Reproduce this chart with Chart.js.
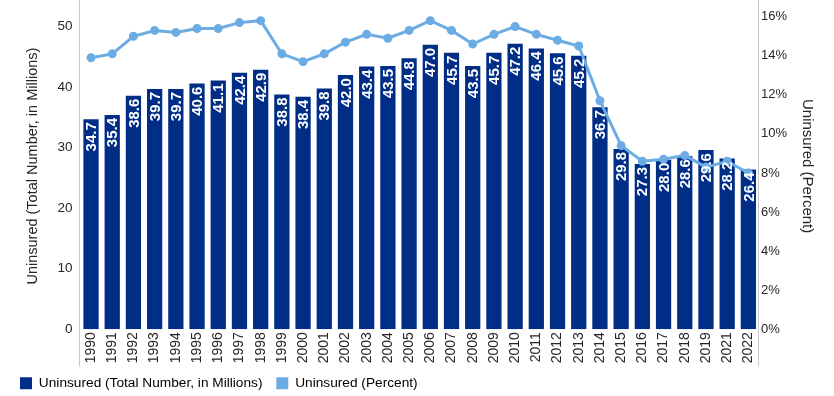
<!DOCTYPE html>
<html>
<head>
<meta charset="utf-8">
<script src="https://cdn.jsdelivr.net/npm/chart.js@4"></script>
<style>
  html, body { margin: 0; padding: 0; background: #fff; overflow: hidden; }
  #frame { width: 834px; height: 396px; position: relative; overflow: hidden; }
  #wrap { width: 834px; height: 415px; position: absolute; left: 0; top: -13px; }
</style>
</head>
<body>
<div id="frame"><div id="wrap"><canvas id="myChart"></canvas></div></div>
<script>
const years = ['1990','1991','1992','1993','1994','1995','1996','1997','1998','1999','2000',
  '2001','2002','2003','2004','2005','2006','2007','2008','2009','2010','2011','2012','2013',
  '2014','2015','2016','2017','2018','2019','2021','2022'];

const uninsuredMillions = [34.7, 35.4, 38.6, 39.7, 39.7, 40.6, 41.1, 42.4, 42.9, 38.8, 38.4,
  39.8, 42.0, 43.4, 43.5, 44.8, 47.0, 45.7, 43.5, 45.7, 47.2, 46.4, 45.6, 45.2,
  36.7, 29.8, 27.3, 28.0, 28.6, 29.6, 28.2, 26.4];

const uninsuredPercent = [13.9, 14.1, 15.0, 15.3, 15.2, 15.4, 15.4, 15.7, 15.8, 14.1, 13.7,
  14.1, 14.7, 15.1, 14.9, 15.3, 15.8, 15.3, 14.6, 15.1, 15.5, 15.1, 14.8, 14.5,
  11.7, 9.4, 8.6, 8.7, 8.9, 8.3, 8.6, 8.0];

const leftTicks = [0, 10, 20, 30, 40, 50];
const rightTicks = [0, 2, 4, 6, 8, 10, 12, 14, 16];

const navy = 'rgb(0, 46, 135)';
const lightBlue = 'rgb(108, 172, 228)';
const font = "Arial, 'Liberation Sans', sans-serif";
const textColor = '#262626';

// white values written up the inside of each bar
const barLabels = {
  id: 'barLabels',
  afterDatasetsDraw(chart) {
    const c = chart.ctx;
    const meta = chart.getDatasetMeta(1);
    c.save();
    c.fillStyle = '#fff';
    c.font = 'bold 15px ' + font;
    c.textAlign = 'right';
    c.textBaseline = 'middle';
    meta.data.forEach((bar, i) => {
      c.save();
      c.translate(bar.x, bar.y + 3);
      c.rotate(-Math.PI / 2);
      c.fillText(uninsuredMillions[i].toFixed(1), 0, 1);
      c.restore();
    });
    c.restore();
  }
};

// grey vertical axis lines running down through the year labels
const sideLines = {
  id: 'sideLines',
  afterDraw(chart) {
    const c = chart.ctx, a = chart.chartArea;
    const bottom = chart.scales.x.bottom;
    c.save();
    c.strokeStyle = '#c8c8c8';
    c.lineWidth = 1;
    [a.left, a.right].forEach(x => {
      c.beginPath();
      c.moveTo(Math.round(x) - 0.5, 13);
      c.lineTo(Math.round(x) - 0.5, bottom);
      c.stroke();
    });
    c.restore();
  }
};

new Chart(document.getElementById('myChart'), {
  data: {
    labels: years,
    datasets: [{
      type: 'line',
      label: 'Uninsured (Percent)',
      data: uninsuredPercent,
      yAxisID: 'y2',
      borderColor: lightBlue,
      backgroundColor: lightBlue,
      borderWidth: 3,
      pointRadius: 3,
      pointHoverRadius: 3,
      tension: 0,
      order: 0
    }, {
      type: 'bar',
      label: 'Uninsured (Total Number, in Millions)',
      data: uninsuredMillions,
      yAxisID: 'y',
      backgroundColor: navy,
      categoryPercentage: 1,
      barPercentage: 0.72,
      order: 1
    }]
  },
  options: {
    responsive: true,
    maintainAspectRatio: false,
    animation: false,
    layout: { padding: { top: 0, left: 10, right: 10, bottom: 2 } },
    plugins: {
      legend: {
        position: 'bottom',
        align: 'start',
        reverse: true,
        labels: {
          color: textColor,
          font: { family: font, size: 13.7 },
          boxWidth: 12,
          boxHeight: 12,
          padding: 10,
          generateLabels(chart) {
            return chart.data.datasets.map((d, i) => ({
              text: i === 1 ? d.label + ' ' : d.label,
              fillStyle: i === 0 ? lightBlue : navy,
              strokeStyle: i === 0 ? lightBlue : navy,
              lineWidth: 0,
              datasetIndex: i
            }));
          }
        }
      },
      tooltip: { enabled: false }
    },
    scales: {
      x: {
        grid: { display: false, drawTicks: false },
        border: { display: false },
        ticks: {
          color: textColor,
          font: { family: font, size: 14 },
          maxRotation: 90,
          minRotation: 90,
          autoSkip: false,
          padding: 3
        }
      },
      y: {
        position: 'left',
        min: 0,
        max: 53.9,
        grid: { display: false, drawTicks: false },
        border: { display: false },
        afterBuildTicks: s => { s.ticks = leftTicks.map(v => ({ value: v })); },
        ticks: { color: textColor, font: { family: font, size: 13.5 }, padding: 8 },
        title: {
          display: true,
          text: 'Uninsured (Total Number, in Millions)',
          color: textColor,
          font: { family: font, size: 14.5 },
          padding: { top: 14, bottom: 8 }
        }
      },
      y2: {
        position: 'right',
        min: 0,
        max: 16.7,
        grid: { display: false, drawTicks: false },
        border: { display: false },
        afterBuildTicks: s => { s.ticks = rightTicks.map(v => ({ value: v })); },
        ticks: {
          color: textColor,
          font: { family: font, size: 13 },
          padding: 2,
          callback: v => v + '%'
        },
        title: {
          display: true,
          text: 'Uninsured (Percent)',
          color: textColor,
          font: { family: font, size: 15 },
          padding: { top: 8, bottom: 9 }
        }
      }
    }
  },
  plugins: [barLabels, sideLines]
});
</script>
</body>
</html>
